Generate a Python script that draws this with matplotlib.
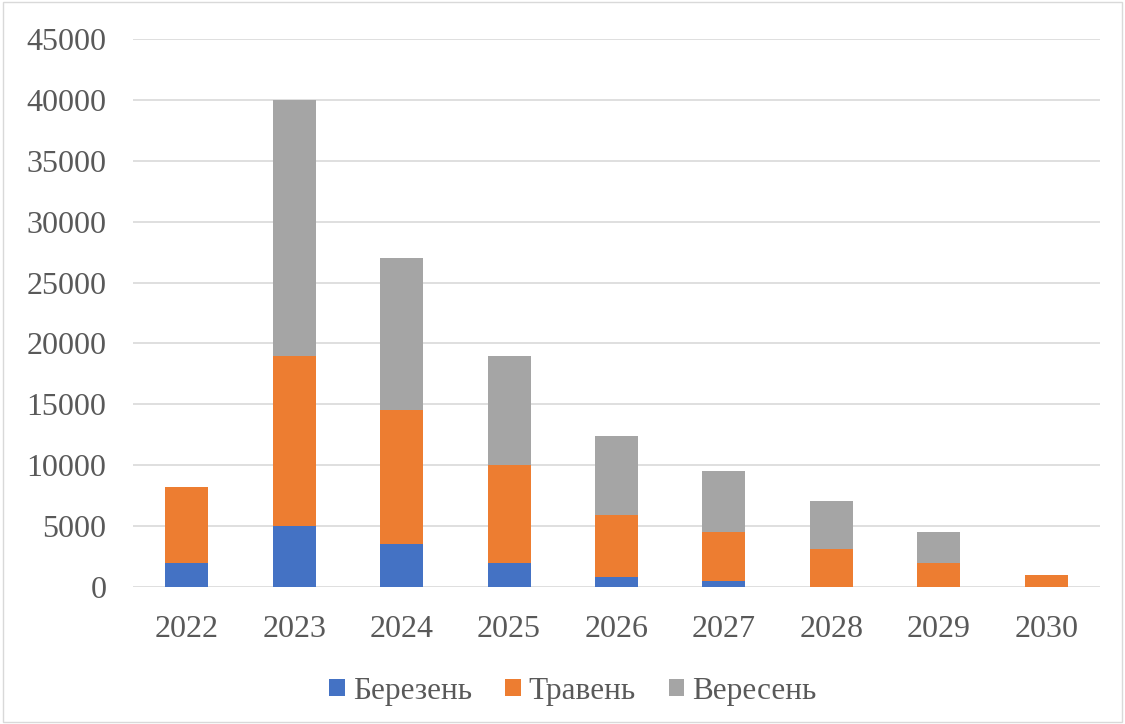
import matplotlib.pyplot as plt
import numpy as np

years = ['2022', '2023', '2024', '2025', '2026', '2027', '2028', '2029', '2030']
berezen = [2000, 5000, 3500, 2000, 850, 500, 0, 0, 0]
traven = [6200, 14000, 11000, 8000, 5050, 4000, 3100, 2000, 1000]
veresen = [0, 21000, 12500, 9000, 6500, 5000, 4000, 2500, 0]

plt.rcParams['font.family'] = ['Liberation Serif', 'DejaVu Serif']

fig = plt.figure(figsize=(11.25, 7.24), dpi=100)
ax = fig.add_axes([133 / 1125, 1 - 587 / 724, (1100 - 133) / 1125, (587 - 39) / 724])

x = np.arange(len(years))
w = 0.4
b1 = np.array(berezen)
b2 = b1 + np.array(traven)
ax.bar(x, berezen, w, color='#4472C4', label='Березень', zorder=3)
ax.bar(x, traven, w, bottom=b1, color='#ED7D31', label='Травень', zorder=3)
ax.bar(x, veresen, w, bottom=b2, color='#A5A5A5', label='Вересень', zorder=3)

ax.set_ylim(0, 45000)
ax.set_xlim(-0.5, len(years) - 0.5)
ax.set_yticks(np.arange(0, 45001, 5000))
ax.set_xticks(x)
ax.set_xticklabels(years)
ax.grid(axis='y', color='#D9D9D9', linewidth=1.2, zorder=0)
for s in ax.spines.values():
    s.set_visible(False)
ax.tick_params(length=0, labelsize=23, colors='#595959')
ax.tick_params(axis='y', pad=19)
ax.tick_params(axis='x', pad=20)

ax.legend(loc='center', bbox_to_anchor=(573 / 1125, 1 - 691 / 724), bbox_transform=fig.transFigure,
          ncol=3, frameon=False, fontsize=22.5, labelcolor='#595959',
          handlelength=0.5, handleheight=0.5, handletextpad=0.26, columnspacing=1.05,
          borderpad=0)

fig.patches.append(plt.Rectangle((0.003, 0.003), 0.994, 0.994, transform=fig.transFigure,
                                 fill=False, edgecolor='#D9D9D9', linewidth=1))

fig.savefig('out.png', dpi=100)
